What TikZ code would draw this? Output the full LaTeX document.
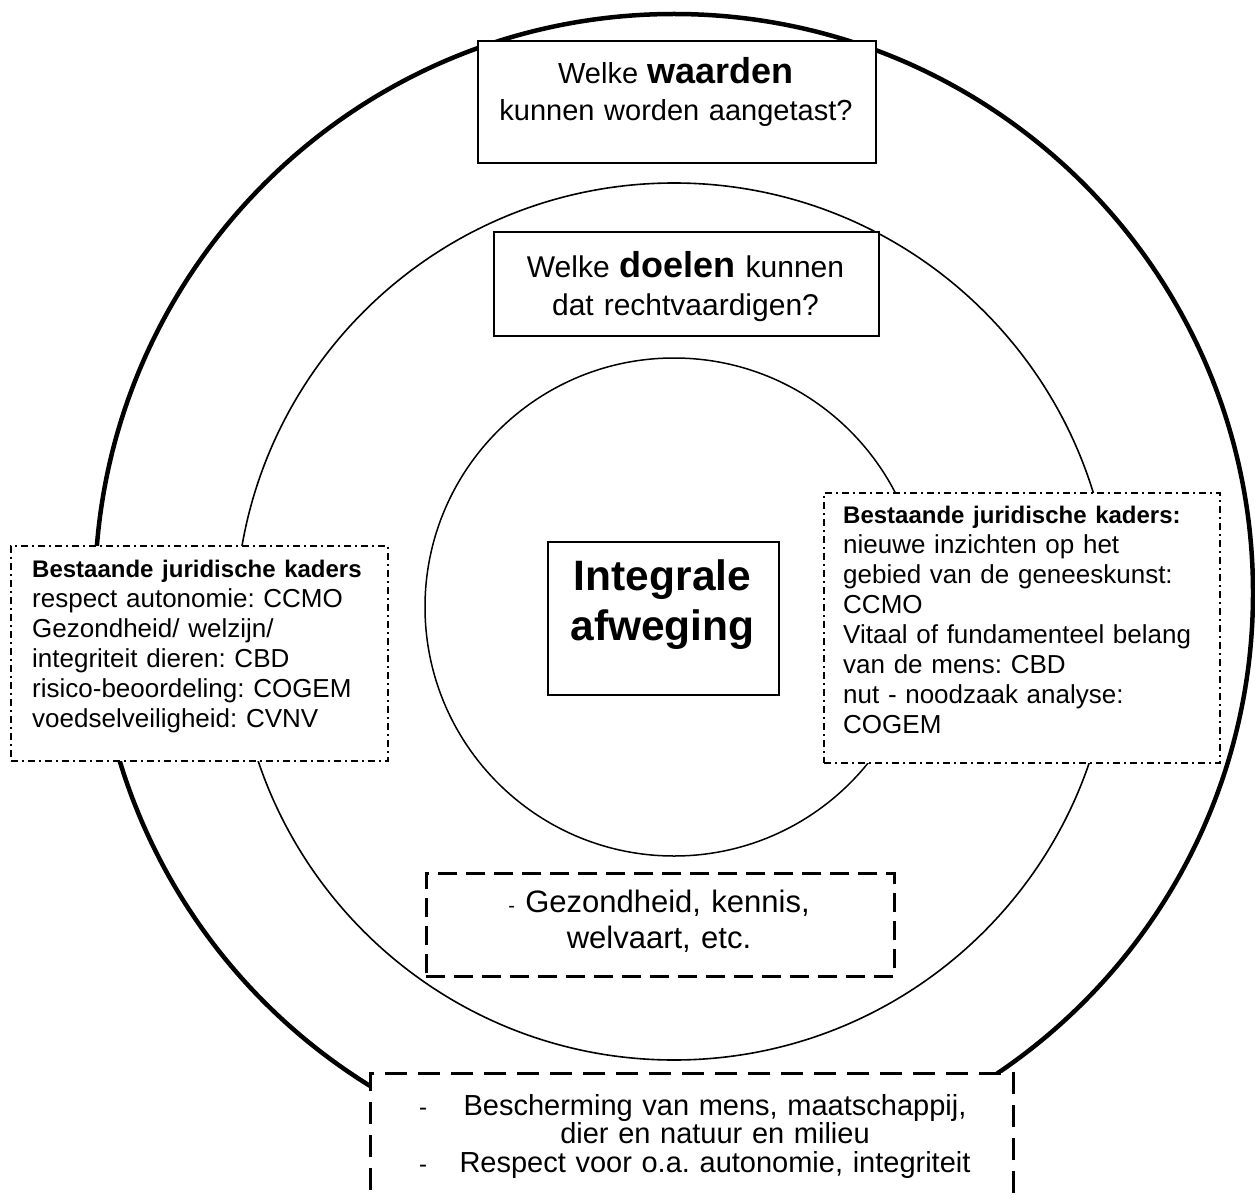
\documentclass[tikz,border=0pt]{standalone}
\usepackage{fontspec}
\setmainfont{Liberation Sans}
\usetikzlibrary{positioning}
\frenchspacing

\tikzset{
    solidbox/.style={draw, fill=white, line width=2, inner sep=0, anchor=north west},
    dotbox/.style={draw, fill=white, line width=1.5, dash pattern=on 7pt off 4pt on 2pt off 4pt, inner sep=0, anchor=north west},
    dashbox/.style={draw, fill=white, line width=2.5, dash pattern=on 19pt off 9pt, inner sep=0, anchor=north west},
    boxtext/.style={inner sep=0, align=center, anchor=base},
    listtext/.style={inner sep=0, align=left, anchor=base west, font=\fontsize{26}{30}\selectfont},
}

\begin{document}
\begin{tikzpicture}[x=1pt, y=-1pt]

    \useasboundingbox (0,0) rectangle (1255,1198);
    \clip (0,0) rectangle (1255,1198);

    % --- Rings (outer, middle, inner) ---
    \foreach \cy/\r/\w in {593/579/4.5, 621.5/438.5/1.6, 607/249/1.5} {
        \draw[line width=\w] (674,\cy) circle[radius=\r];
    }

    % --- Question boxes ---
    \node[solidbox, minimum width=398, minimum height=122] (waarden) at (477,40) {};
    \node[boxtext, text width=390, font=\fontsize{29}{37}\selectfont] (waardenTxt)
        at ([shift={(199,44)}]waarden.north west)
        {Welke {\fontsize{36}{37}\selectfont\bfseries waarden}\\kunnen worden aangetast?};

    \node[solidbox, minimum width=385, minimum height=104] (doelen) at (493,231) {};
    \node[boxtext, text width=380, font=\fontsize{30}{38}\selectfont] (doelenTxt)
        at ([shift={(192.5,46)}]doelen.north west)
        {Welke {\fontsize{36}{38}\selectfont\bfseries doelen} kunnen\\dat rechtvaardigen?};

    % --- Centre ---
    \node[solidbox, minimum width=231, minimum height=153] (integraal) at (547,541) {};
    \node[boxtext, text width=225, font=\fontsize{42.5}{50}\selectfont\bfseries] (integraalTxt)
        at ([shift={(115.5,49)}]integraal.north west) {Integrale\\afweging};

    % --- Legal frameworks (left and right) ---
    \node[dotbox, minimum width=377, minimum height=215] (kaderL) at (10,545) {};
    \node[listtext, text width=350] (kaderLTxt) at ([shift={(22,32)}]kaderL.north west)
        {{\fontsize{24}{30}\selectfont\bfseries Bestaande juridische kaders}\\
         respect autonomie: CCMO\\
         Gezondheid/ welzijn/\\
         integriteit dieren: CBD\\
         risico-beoordeling: COGEM\\
         voedselveiligheid: CVNV};

    \node[dotbox, minimum width=396, minimum height=270] (kaderR) at (823,492) {};
    \node[listtext, text width=370] (kaderRTxt) at ([shift={(20,31)}]kaderR.north west)
        {{\fontsize{24}{30}\selectfont\bfseries Bestaande juridische kaders:}\\
         nieuwe inzichten op het\\
         gebied van de geneeskunst:\\
         CCMO\\
         Vitaal of fundamenteel belang\\
         van de mens: CBD\\
         nut - noodzaak analyse:\\
         COGEM};

    % --- Goals (dashed) ---
    \node[dashbox, minimum width=468, minimum height=103] (doelenLijst) at (425,872) {};
    \node[boxtext, text width=460, font=\fontsize{31}{36}\selectfont] (doelenLijstTxt)
        at ([shift={(234,40)}]doelenLijst.north west)
        {{\fontsize{20}{36}\selectfont -} Gezondheid, kennis,\\welvaart, etc.};

    % --- Values (dashed, bottom) ---
    \node[dashbox, dash pattern=on 22pt off 11pt, minimum width=643, minimum height=170] (waardenLijst) at (369,1072) {};
    \node[boxtext, text width=560, font=\fontsize{29}{28.5}\selectfont] (waardenLijstTxt)
        at ([shift={(346,43)}]waardenLijst.north west)
        {Bescherming van mens, maatschappij,\\dier en natuur en milieu\\Respect voor o.a. autonomie, integriteit};
    \foreach \dy/\name in {43/dashA, 100/dashB} {
        \node[boxtext, font=\fontsize{24}{24}\selectfont] (\name) at ([shift={(54,\dy)}]waardenLijst.north west) {-};
    }

\end{tikzpicture}
\end{document}
